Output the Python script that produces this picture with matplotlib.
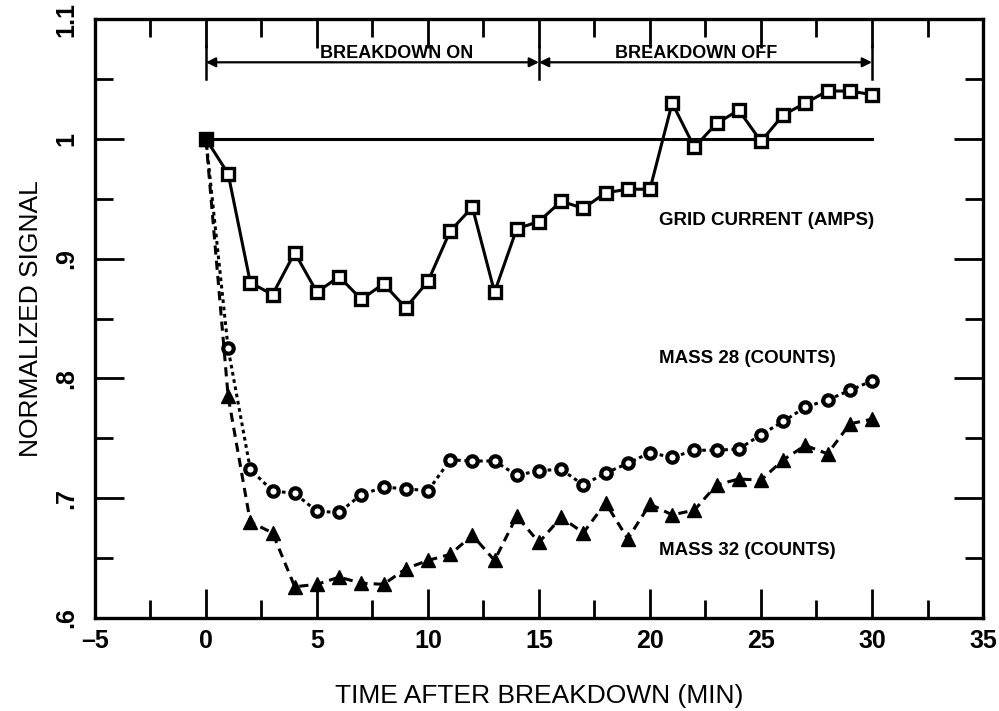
import matplotlib
matplotlib.use("Agg")
import matplotlib.pyplot as plt
from matplotlib.ticker import MultipleLocator, FixedFormatter, FixedLocator

time_min = list(range(0, 31))
grid_current = [1.000, 0.971, 0.880, 0.870, 0.905, 0.872, 0.885, 0.866, 0.879, 0.859,
                0.881, 0.923, 0.943, 0.872, 0.925, 0.931, 0.948, 0.942, 0.955, 0.958,
                0.958, 1.030, 0.993, 1.013, 1.024, 0.998, 1.020, 1.030, 1.040, 1.040, 1.037]
mass28 = [1.000, 0.825, 0.724, 0.706, 0.704, 0.689, 0.688, 0.703, 0.709, 0.708,
          0.706, 0.732, 0.731, 0.731, 0.719, 0.723, 0.724, 0.711, 0.721, 0.729,
          0.738, 0.734, 0.740, 0.740, 0.741, 0.753, 0.764, 0.776, 0.782, 0.790, 0.798]
mass32 = [1.000, 0.785, 0.680, 0.671, 0.626, 0.628, 0.634, 0.629, 0.628, 0.641,
          0.648, 0.653, 0.669, 0.648, 0.685, 0.663, 0.684, 0.671, 0.696, 0.666,
          0.695, 0.686, 0.690, 0.711, 0.716, 0.715, 0.732, 0.744, 0.737, 0.762, 0.766]
x_ticks = [-5, 0, 5, 10, 15, 20, 25, 30, 35]
y_ticks = [0.6, 0.7, 0.8, 0.9, 1.0, 1.1]
y_tick_labels = [".6", ".7", ".8", ".9", "1", "1.1"]
phase_bounds = [0, 15, 30]
phase_labels = ["BREAKDOWN ON", "BREAKDOWN OFF"]
phase_label_x = [8.6, 22.1]

plt.rcParams['font.family'] = ["Liberation Sans", "DejaVu Sans"]

fig = plt.figure(figsize=(9.99, 7.11), dpi=100)
ax = fig.add_axes([0.095, 0.131, 0.889, 0.842])

ax.plot([0, 30], [1.0, 1.0], color='black', lw=2.2)
ax.plot(time_min, grid_current, color='black', lw=2.2, marker='s', ms=8,
        mfc='white', mec='black', mew=2.4)
ax.plot(time_min, mass28, color='black', lw=2.2, ls=(0, (1.2, 1.2)), marker='o', ms=7.5,
        mfc='white', mec='black', mew=3.0)
ax.plot(time_min, mass32, color='black', lw=2.2, ls=(0, (3, 2)), marker='^', ms=9.5,
        mfc='black', mec='black')

ax.set_xlim(-5, 35)
ax.set_ylim(0.6, 1.1)

ax.xaxis.set_major_locator(FixedLocator(x_ticks))
ax.xaxis.set_minor_locator(MultipleLocator(2.5))
ax.yaxis.set_major_locator(FixedLocator(y_ticks))
ax.yaxis.set_major_formatter(FixedFormatter(y_tick_labels))
ax.yaxis.set_minor_locator(MultipleLocator(0.05))
ax.set_xticklabels([str(v) if v >= 0 else "\u2013" + str(-v) for v in x_ticks])

ax.tick_params(which='both', direction='in', top=True, right=True, width=2, labelsize=18)
ax.tick_params(which='major', length=21)
ax.tick_params(which='minor', length=13)
ax.tick_params(axis='x', pad=8)
ax.tick_params(axis='y', pad=12)
for lab in ax.get_yticklabels() + ax.get_xticklabels():
    lab.set_fontweight('bold')
for lab in ax.get_yticklabels():
    lab.set_rotation(90)
    lab.set_va('center')
for s in ax.spines.values():
    s.set_linewidth(2.4)

# phase annotations
y_arrow = 1.064
for xb in phase_bounds:
    ax.plot([xb, xb], [1.050, 1.078], color='black', lw=1.8)
for i, lab in enumerate(phase_labels):
    x0, x1 = phase_bounds[i], phase_bounds[i + 1]
    ax.annotate("", xy=(x0, y_arrow), xytext=(x1, y_arrow),
                arrowprops=dict(arrowstyle='<|-|>', color='black', lw=1.6,
                                shrinkA=0, shrinkB=0, mutation_scale=14))
    ax.text(phase_label_x[i], 1.0716, lab, ha='center', va='center',
            fontsize=13, fontweight='bold')

ax.text(20.4, 0.932, "GRID CURRENT (AMPS)", fontsize=13.5, fontweight='bold', va='center', ha='left')
ax.text(20.4, 0.817, "MASS 28 (COUNTS)", fontsize=13.5, fontweight='bold', va='center', ha='left')
ax.text(20.4, 0.656, "MASS 32 (COUNTS)", fontsize=13.5, fontweight='bold', va='center', ha='left')

ax.set_xlabel("TIME AFTER BREAKDOWN (MIN)", fontsize=19, labelpad=22)
ax.set_ylabel("NORMALIZED SIGNAL", fontsize=19, labelpad=8)

fig.savefig("out.png", dpi=100)
